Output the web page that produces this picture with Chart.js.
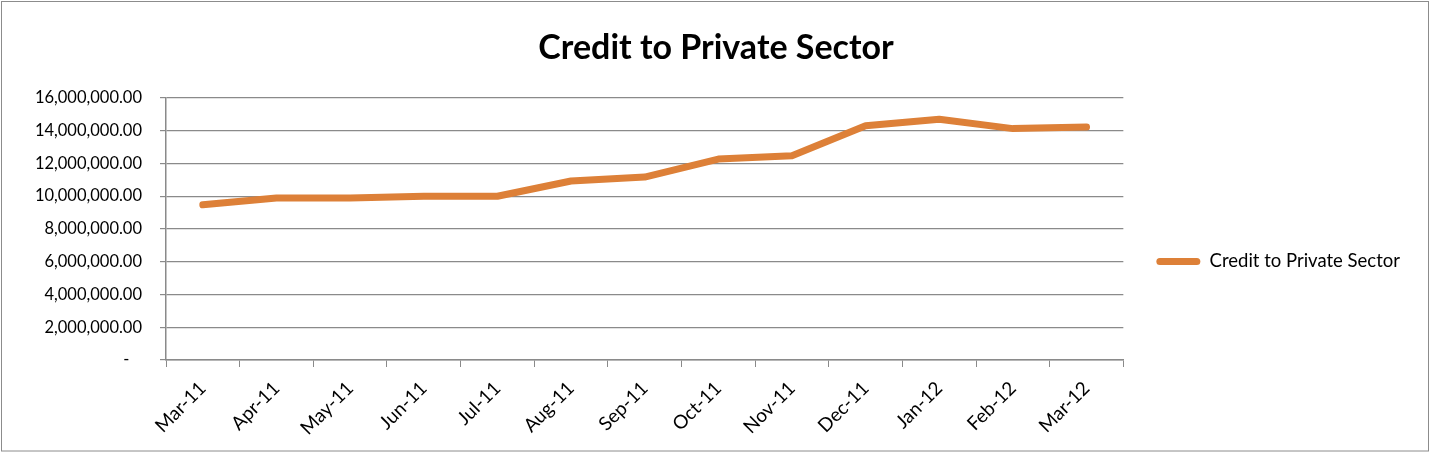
<!DOCTYPE html>
<html>
<head>
<meta charset="utf-8">
<script src="https://cdn.jsdelivr.net/npm/chart.js@4"></script>
<style>
  html, body { margin: 0; padding: 0; background: #fff; }
  #wrap { width: 1432px; height: 453px; position: relative; }
</style>
</head>
<body>
<div id="wrap"><canvas id="creditChart"></canvas></div>
<script>
// Data
const months = ['Mar-11', 'Apr-11', 'May-11', 'Jun-11', 'Jul-11', 'Aug-11', 'Sep-11',
                'Oct-11', 'Nov-11', 'Dec-11', 'Jan-12', 'Feb-12', 'Mar-12'];
const creditValues = [9470000, 9880000, 9880000, 9990000, 9990000, 10920000, 11160000,
                      12260000, 12460000, 14290000, 14690000, 14120000, 14220000];
const seriesName = 'Credit to Private Sector';

const orange = '#DD8038';
const gridGray = '#8a8a8a';
const font = 'Lato, "Open Sans", sans-serif';

// Outer frame like the spreadsheet chart border
const framePlugin = {
  id: 'frame',
  beforeDraw(chart) {
    const c = chart.ctx;
    c.save();
    c.fillStyle = '#fff';
    c.fillRect(0, 0, chart.width, chart.height);
    c.strokeStyle = '#8c8c8c';
    c.lineWidth = 1;
    c.strokeRect(1.5, 1.5, 1427, 449.5);
    c.restore();
  }
};

// leave some empty room to the right of the legend text,
// so the title stays centred on the whole canvas
const legendRoomPlugin = {
  id: 'legendRoom',
  beforeLayout(chart) {
    const lg = chart.legend;
    if (lg && !lg._roomAdded) {
      const fit = lg.fit.bind(lg);
      lg.fit = function () { fit(); this.width += 22; };
      lg._roomAdded = true;
    }
  }
};

function fmt(v) {
  if (v === 0) return '-   ';
  return v.toLocaleString('en-US', { minimumFractionDigits: 2, maximumFractionDigits: 2 });
}

const ctx = document.getElementById('creditChart').getContext('2d');

new Chart(ctx, {
  type: 'line',
  data: {
    labels: months,
    datasets: [{
      label: seriesName,
      data: creditValues,
      borderColor: orange,
      backgroundColor: orange,
      borderWidth: 7,
      borderCapStyle: 'round',
      borderJoinStyle: 'round',
      pointRadius: 0,
      pointHoverRadius: 0,
      tension: 0,
      fill: false
    }]
  },
  options: {
    responsive: true,
    maintainAspectRatio: false,
    animation: false,
    layout: { padding: 0 },
    plugins: {
      title: {
        display: true,
        text: seriesName,
        color: '#000',
        font: { family: font, size: 34, weight: 'bold' },
        padding: { top: 28, bottom: 29 }
      },
      legend: {
        position: 'right',
        // empty legend title only pushes the entry down, as in the original
        title: {
          display: true,
          text: ' ',
          font: { family: font, size: 10, lineHeight: 1 },
          padding: { top: 30, bottom: 30 }
        },
        labels: {
          color: '#000',
          font: { family: font, size: 18.5 },
          boxWidth: 44,
          boxHeight: 7,
          padding: 33,
          generateLabels(chart) {
            const ds = chart.data.datasets[0];
            return [{
              text: ds.label,
              fillStyle: orange,
              strokeStyle: orange,
              fontColor: '#000',
              lineWidth: 0,
              borderRadius: 3.5,
              datasetIndex: 0
            }];
          }
        }
      },
      tooltip: { enabled: false }
    },
    scales: {
      x: {
        offset: true,
        grid: {
          display: true,
          offset: true,
          drawOnChartArea: false,
          drawTicks: true,
          tickLength: 7,
          color: gridGray,
          lineWidth: 1
        },
        border: { color: gridGray, width: 1.5 },
        ticks: {
          color: '#000',
          font: { family: font, size: 19 },
          minRotation: 45,
          maxRotation: 45,
          autoSkip: false,
          padding: 10
        },
        afterFit(scale) { scale.height = 93; }
      },
      y: {
        min: 0,
        max: 16000000,
        grid: {
          color: gridGray,
          lineWidth: 1.2,
          tickLength: 6
        },
        border: { color: gridGray, width: 1.5 },
        ticks: {
          stepSize: 2000000,
          color: '#000',
          font: { family: font, size: 16.5 },
          padding: 18,
          callback: (v) => fmt(v)
        },
        afterFit(scale) { scale.width = 166; }
      }
    }
  },
  plugins: [framePlugin, legendRoomPlugin]
});
</script>
</body>
</html>
